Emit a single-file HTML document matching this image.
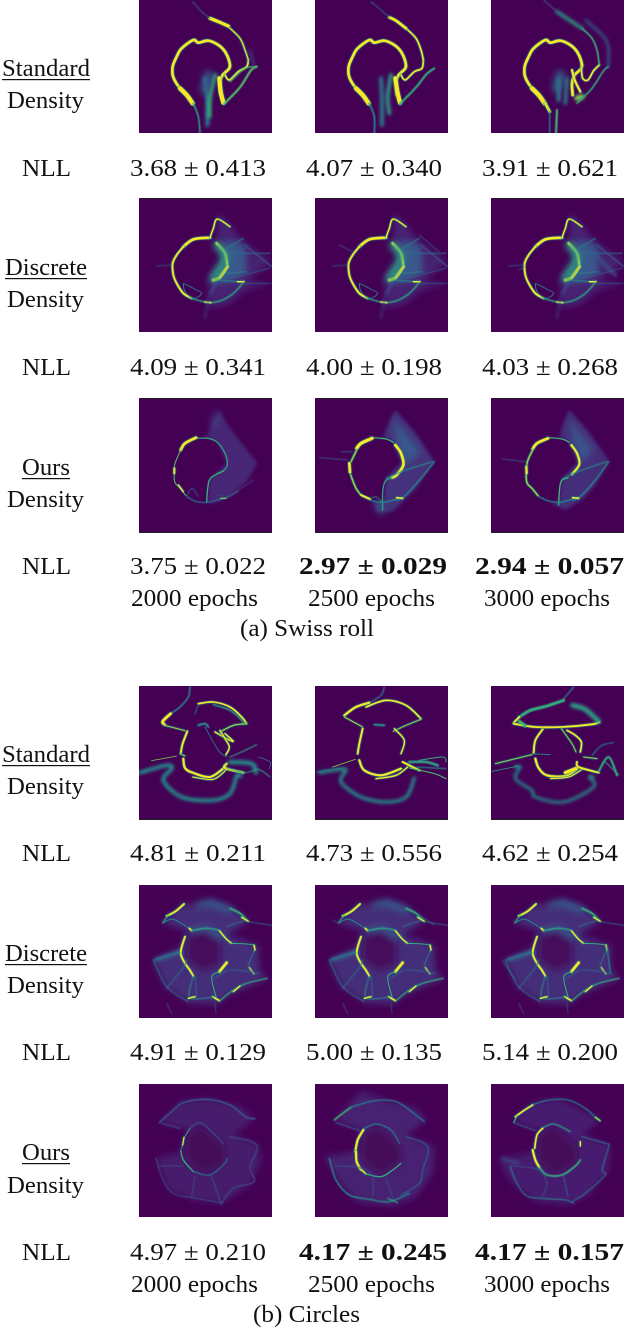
<!DOCTYPE html>
<html lang="en">
<head>
<meta charset="utf-8">
<title>Density comparison: Swiss roll and Circles</title>
<style>
html,body{margin:0;padding:0;background:#fff}
#figure{display:block;width:626px;height:1328px}
text{font-family:"Liberation Serif",serif;fill:#111;font-size:24px}
.b{font-weight:bold}
</style>
</head>
<body>
<svg id="figure" xmlns="http://www.w3.org/2000/svg" width="626" height="1328" viewBox="0 0 626 1328">
<defs>
<filter id="s1" filterUnits="userSpaceOnUse" x="-100" y="-100" width="700" height="700"><feGaussianBlur stdDeviation="1.8"/></filter>
<filter id="s2" filterUnits="userSpaceOnUse" x="-100" y="-100" width="700" height="700"><feGaussianBlur stdDeviation="5"/></filter>
<filter id="s3" filterUnits="userSpaceOnUse" x="-100" y="-100" width="700" height="700"><feGaussianBlur stdDeviation="10"/></filter>
</defs>
<g id="panels"></g>

<g>
<text x="2" y="76" textLength="88" lengthAdjust="spacingAndGlyphs">Standard</text>
<rect x="2" y="79" width="88" height="1.2" fill="#111"/>
<text x="7" y="108" textLength="77" lengthAdjust="spacingAndGlyphs">Density</text>
<text x="22" y="176" textLength="49" lengthAdjust="spacingAndGlyphs">NLL</text>
<text x="130" y="176" textLength="136" lengthAdjust="spacingAndGlyphs">3.68 ± 0.413</text>
<text x="306" y="176" textLength="136" lengthAdjust="spacingAndGlyphs">4.07 ± 0.340</text>
<text x="482" y="176" textLength="136" lengthAdjust="spacingAndGlyphs">3.91 ± 0.621</text>

<text x="5" y="275" textLength="82" lengthAdjust="spacingAndGlyphs">Discrete</text>
<rect x="5" y="278" width="82" height="1.2" fill="#111"/>
<text x="7" y="307" textLength="77" lengthAdjust="spacingAndGlyphs">Density</text>
<text x="22" y="375" textLength="49" lengthAdjust="spacingAndGlyphs">NLL</text>
<text x="130" y="375" textLength="136" lengthAdjust="spacingAndGlyphs">4.09 ± 0.341</text>
<text x="306" y="375" textLength="136" lengthAdjust="spacingAndGlyphs">4.00 ± 0.198</text>
<text x="482" y="375" textLength="136" lengthAdjust="spacingAndGlyphs">4.03 ± 0.268</text>

<text x="22" y="475" textLength="48" lengthAdjust="spacingAndGlyphs">Ours</text>
<rect x="22" y="478" width="48" height="1.2" fill="#111"/>
<text x="7" y="507" textLength="77" lengthAdjust="spacingAndGlyphs">Density</text>
<text x="22" y="574" textLength="49" lengthAdjust="spacingAndGlyphs">NLL</text>
<text x="130" y="574" textLength="136" lengthAdjust="spacingAndGlyphs">3.75 ± 0.022</text>
<text class="b" x="299" y="574" textLength="148" lengthAdjust="spacingAndGlyphs">2.97 ± 0.029</text>
<text class="b" x="475" y="574" textLength="149" lengthAdjust="spacingAndGlyphs">2.94 ± 0.057</text>
<text x="131" y="606" textLength="127" lengthAdjust="spacingAndGlyphs">2000 epochs</text>
<text x="308" y="606" textLength="127" lengthAdjust="spacingAndGlyphs">2500 epochs</text>
<text x="484" y="606" textLength="126" lengthAdjust="spacingAndGlyphs">3000 epochs</text>
<text x="240" y="636" textLength="134" lengthAdjust="spacingAndGlyphs">(a) Swiss roll</text>
</g>

<g>
<text x="2" y="762" textLength="88" lengthAdjust="spacingAndGlyphs">Standard</text>
<rect x="2" y="765" width="88" height="1.2" fill="#111"/>
<text x="7" y="794" textLength="77" lengthAdjust="spacingAndGlyphs">Density</text>
<text x="22" y="861" textLength="49" lengthAdjust="spacingAndGlyphs">NLL</text>
<text x="130" y="861" textLength="136" lengthAdjust="spacingAndGlyphs">4.81 ± 0.211</text>
<text x="306" y="861" textLength="136" lengthAdjust="spacingAndGlyphs">4.73 ± 0.556</text>
<text x="482" y="861" textLength="136" lengthAdjust="spacingAndGlyphs">4.62 ± 0.254</text>

<text x="5" y="961" textLength="82" lengthAdjust="spacingAndGlyphs">Discrete</text>
<rect x="5" y="964" width="82" height="1.2" fill="#111"/>
<text x="7" y="993" textLength="77" lengthAdjust="spacingAndGlyphs">Density</text>
<text x="22" y="1060" textLength="49" lengthAdjust="spacingAndGlyphs">NLL</text>
<text x="130" y="1060" textLength="136" lengthAdjust="spacingAndGlyphs">4.91 ± 0.129</text>
<text x="306" y="1060" textLength="136" lengthAdjust="spacingAndGlyphs">5.00 ± 0.135</text>
<text x="482" y="1060" textLength="136" lengthAdjust="spacingAndGlyphs">5.14 ± 0.200</text>

<text x="22" y="1160" textLength="48" lengthAdjust="spacingAndGlyphs">Ours</text>
<rect x="22" y="1163" width="48" height="1.2" fill="#111"/>
<text x="7" y="1193" textLength="77" lengthAdjust="spacingAndGlyphs">Density</text>
<text x="22" y="1260" textLength="49" lengthAdjust="spacingAndGlyphs">NLL</text>
<text x="130" y="1260" textLength="136" lengthAdjust="spacingAndGlyphs">4.97 ± 0.210</text>
<text class="b" x="299" y="1260" textLength="148" lengthAdjust="spacingAndGlyphs">4.17 ± 0.245</text>
<text class="b" x="475" y="1260" textLength="149" lengthAdjust="spacingAndGlyphs">4.17 ± 0.157</text>
<text x="131" y="1292" textLength="127" lengthAdjust="spacingAndGlyphs">2000 epochs</text>
<text x="308" y="1292" textLength="127" lengthAdjust="spacingAndGlyphs">2500 epochs</text>
<text x="484" y="1292" textLength="126" lengthAdjust="spacingAndGlyphs">3000 epochs</text>
<text x="253" y="1322" textLength="107" lengthAdjust="spacingAndGlyphs">(b) Circles</text>
</g>
</svg>

<script>
// Each ridge: [density 0..1, spread (0 = filled region), softness 0..3, x, y, x, y, ...]
// Coordinates are density-image coordinates.
const swissStdCircle = [
 [1,5,0,180,295,150,265,130,232,128,200,140,170,155,145,190,120,205,128,235,122,265,135,285,155,298,185,298,205,278,225,270,250,272,285],
 [1,8,0,150,265,170,285,188,310]
];
const swissStd2000 = swissStdCircle.concat([
 [.55,3,1,190,310,205,350,210,398],
 [.45,7,2,225,235,232,300,232,375],
 [.62,7,2,255,225,240,290,238,350],
 [.3,16,3,235,225,225,270],
 [1,8,0,280,308,272,275,268,235],
 [.7,4,1,282,312,330,262,362,212,380,200],
 [1,3,0,285,225,298,240,325,215,350,200,355,180],
 [.7,2.5,1,300,245,345,205,380,200],
 [.95,2.5,0,355,180,345,150,330,115,295,80],
 [1,6,0,295,78,265,65,240,55],
 [.3,2,1,240,55,215,35,188,5],
 [.2,4,2,360,150,372,195]
]);
const swissStd2500 = swissStdCircle.concat([
 [.5,3,1,190,310,205,350,205,398],
 [.45,7,2,225,235,228,300,228,375],
 [.55,7,2,255,225,245,290,250,340],
 [1,8,0,282,308,274,275,268,235],
 [.6,4,1,282,312,330,262,362,222,385,205],
 [1,3,0,285,225,298,240,325,215,348,205,352,180],
 [1,3,0,352,180,345,150,330,115,300,85],
 [1,5,0,300,85,270,62,250,52],
 [.3,2,1,250,52,225,30,195,5]
]);
const swissStd3000 = swissStdCircle.concat([
 [.95,5,0,190,310,203,335],
 [.45,2.5,1,203,335,203,398],
 [.65,4,1,225,330,222,398],
 [.45,7,2,230,240,230,300],
 [.35,16,3,235,225,225,265],
 [.45,6,2,255,235,250,310],
 [1,4,0,270,210,278,240,295,275],
 [.8,10,2,285,295,300,290],
 [.6,3,1,285,310,330,265,365,212,380,200],
 [1,3,0,298,205,302,235,318,240,335,212,352,195],
 [.65,3,1,352,195,345,150,330,115,300,85],
 [.55,6,2,300,85,265,62,225,35],
 [.25,2,1,225,35,185,0],
 [.35,4,2,310,60,365,110,380,150,378,200]
]);

const swissDiscBase = [
 [.12,0,3,265,50,340,140,425,200,350,260,420,268,345,285,300,325,240,340,235,250,280,195,262,140],
 [.28,0,3,285,135,345,150,350,232,295,262,250,262,290,200],
 [1,5,0,240,128,190,133,160,155],
 [1,3.5,0,160,155,140,180,128,205,130,240,140,265,160,295,185,310],
 [.55,3,1,185,310,230,322,270,318,310,295,342,260],
 [1,3,0,225,321,242,323],
 [1,2.5,0,240,128,250,100,262,72,300,95],
 [1,5,0,260,145,285,175,292,215],
 [1,6,0,292,215,268,248,250,255],
 [.55,14,3,262,150,285,190,250,250],
 [.45,2,1,290,160,340,130],
 [.45,2,1,290,235,350,230],
 [.5,2,1,262,255,340,262],
 [1,2.5,0,322,260,342,260],
 [.3,1.5,1,340,265,422,265],
 [.28,1.5,1,80,213,125,210],
 [.5,1.5,0,160,265,190,280,215,295,190,310,165,290,160,265],
 [.2,3,2,235,310,225,370],
 [.35,2,1,290,170,345,175,420,175],
 [.3,2,1,345,150,425,215],
 [.25,4,2,240,300,260,260],
 [.3,1.5,1,300,250,420,220]
];
const swissDisc2500 = swissDiscBase.concat([[.3,1.5,1,340,120,400,170],[.24,1.5,1,140,170,100,150]]);
const swissDisc3000 = swissDiscBase.concat([[.25,6,2,340,180,400,240],[.3,1.5,1,110,225,128,215]]);

const swissOurs2000 = [
 [.13,0,2,270,50,300,100,382,205,350,260,300,302,250,325,232,320,240,250,290,205,262,140,228,126,250,80],
 [.24,8,3,262,55,250,90],
 [.55,2.5,0,195,130,235,130,262,142,285,175,292,210,280,228],
 [.62,2.5,0,280,228,255,240,238,255,232,290,230,322],
 [.35,2.5,1,170,305,200,320,232,322,262,315,290,308,325,288],
 [.75,2.5,0,272,310,288,310],
 [1,5,0,152,165,165,145,198,128],
 [.7,2,0,152,165,135,205,133,225,134,260,150,280,168,302],
 [1,3.5,0,133,220,133,235],
 [1,2.5,0,145,270,160,290],
 [.35,1.5,1,170,305,185,280,205,305],
 [.22,1.5,1,260,300,300,300,370,255]
];
const swissOurs2500 = [
 [.16,0,2,268,45,330,115,385,200,330,280,300,310,260,350,215,350,205,320,232,318,240,250,290,200,262,140,232,125,250,80],
 [.28,0,3,262,70,345,170,300,210,270,140],
 [.25,10,3,210,330,230,350],
 [.62,2.5,0,200,128,240,132,262,142],
 [1,5,0,268,150,285,175,292,210,272,240,258,248],
 [.55,2.5,0,258,248,238,258,230,290,230,345],
 [.5,2.5,1,170,305,200,318,232,322,262,315,290,308,335,262,385,200],
 [.5,2,1,240,250,300,225,380,200],
 [1,3,0,272,308,290,310],
 [1,6,0,152,160,165,145,198,130],
 [.85,2.5,0,152,165,135,200],
 [1,5,0,130,205,132,232],
 [.85,2.5,0,134,240,150,280,165,300],
 [1,3.5,0,165,300,192,312],
 [.55,1.5,1,192,312,210,305,228,322],
 [.3,1.5,1,40,188,125,195],
 [.3,1.5,1,105,170,140,170]
];
const swissOurs3000 = [
 [.15,0,2,262,45,320,110,382,200,340,270,300,315,250,345,205,325,232,318,240,250,290,200,262,140,232,125,245,80],
 [.25,0,3,262,70,335,165,300,205,270,140],
 [.62,2.5,0,200,128,240,132,262,142],
 [1,4,0,268,150,285,175,292,208,270,238],
 [.65,2.5,0,258,248,238,258,232,290,230,330],
 [.5,2.5,1,170,305,200,318,232,322,262,315,290,308,335,262,380,200],
 [.5,2,1,240,252,300,225,375,200],
 [1,3,0,272,308,290,310],
 [1,5,0,152,162,165,145,198,130],
 [.85,2.5,0,152,165,135,205,134,260,150,280,168,302],
 [1,4,0,133,215,134,235],
 [.3,1.5,1,60,192,130,200]
];

const circStd2000 = [
 [.45,3,1,180,15,175,45,150,75,122,95],
 [1,5,0,122,95,98,118,104,128],
 [.9,1.5,0,104,130,165,146],
 [.35,2,1,195,95,205,68],
 [1,3,0,205,65,250,60,300,75,335,105,350,125],
 [.55,3,1,250,68,300,85,335,115,340,128],
 [.85,2,0,350,125,310,130,270,150],
 [.5,4,1,205,130,225,125,235,135],
 [1,3.5,0,172,148,158,185,152,215],
 [.45,1.5,0,225,135,265,205,290,225],
 [1,2.5,0,255,150,290,170,310,178,285,155],
 [1,2.5,0,270,145,285,170,298,195,288,218],
 [1,4,0,160,230,165,258,188,272,240,285,285,255],
 [1,2,0,188,285,250,292,290,262],
 [1,4,0,290,245,285,258,340,272],
 [.5,8,2,300,240,365,245,378,272],
 [.55,2,1,290,258,345,272,385,262,420,285],
 [.4,1.5,0,385,225,420,240,418,260],
 [.5,7,2,30,272,110,250,125,260,100,295,155,345,245,355,300,335,320,282,332,282],
 [.55,2,1,300,225,345,205,380,188],
 [.8,1.5,0,65,236,140,222],
 [.85,1.5,0,150,215,165,222]
];
const circStd2500 = [
 [.4,2.5,1,235,15,225,40,190,62],
 [1,4,0,190,62,150,75,115,100],
 [.9,1.5,0,115,105,170,135],
 [1,3,0,180,75,240,55,300,70,345,110],
 [.85,1.6,0,345,112,300,130,262,148],
 [1,3.5,0,170,140,160,185,155,215],
 [1,2.5,0,265,140,295,175,285,215],
 [.5,4,1,205,128,235,130],
 [1,4,0,160,235,175,265,225,280,285,260],
 [1,2.5,0,210,290,270,280,305,255],
 [1,3.5,0,290,240,340,265],
 [.55,5,1,310,240,360,240,395,250],
 [.7,2,0,310,258,385,275,420,290],
 [.6,2,0,340,235,410,225,420,240],
 [.5,2,1,330,255,420,260],
 [.5,6,2,40,272,105,262,120,265,105,300,165,345,240,360,300,345,325,288],
 [.45,2,1,35,270,110,258],
 [.8,1.5,0,80,255,148,232]
];
const circStd3000 = [
 [.35,3,1,275,15,245,50],
 [.6,6,1,245,55,195,72,145,85,112,105],
 [1,3.5,0,112,105,95,122],
 [1,3.5,0,95,125,160,135,240,135,330,127,352,120],
 [.55,9,2,272,70,310,82,350,118],
 [.65,6,1,112,118,130,132],
 [1,3.5,0,182,142,160,175,155,212],
 [1,3,0,255,145,280,160,298,180,295,210],
 [.85,1.5,0,238,140,270,185,282,210],
 [1,4,0,160,230,170,258,195,280,250,282,285,262],
 [1,6,0,250,272,285,258],
 [1,2,0,205,290,260,285,300,262],
 [1,3.5,0,285,240,290,255,350,272],
 [.6,4,1,350,268,380,225,405,280],
 [.55,2,1,370,240,410,278],
 [.45,2,1,330,220,360,190,395,182],
 [.5,5,2,98,255,115,255,100,290,150,325,160,345,245,360,335,315,322,285,335,285],
 [.55,1.5,0,30,268,110,252],
 [.85,1.5,0,40,245,150,218],
 [.5,1.5,0,150,215,205,218],
 [.85,1.5,0,305,225,345,230]
];

const circDiscBase = [
 [.15,0,3,95,130,160,72,215,75,240,55,300,78,358,125,290,165,385,195,388,270,412,295,305,340,260,372,178,368,105,320,70,240,150,205,172,150],
 [.03,0,3,172,170,220,150,272,190,270,250,225,272,170,240],
 [.32,10,3,205,75,240,70,300,90],
 [.3,10,3,190,150,230,148,270,170],
 [.32,8,2,80,240,150,215],
 [1,3.5,0,110,108,135,95,162,72],
 [.55,2.5,1,98,128,115,105],
 [.45,2,0,98,130,130,118,185,150],
 [1,3,0,178,145,185,152],
 [.55,3,1,185,152,230,145,265,150],
 [.6,4,1,300,85,330,100,352,122],
 [1,2.5,0,335,112,355,124],
 [.4,1.5,1,355,125,425,136],
 [1,2.5,0,268,152,290,178,305,190],
 [.45,1.5,1,290,140,345,122],
 [.6,2,0,305,190,370,195,372,215],
 [1,2.5,0,372,195,375,210],
 [.45,1.5,1,372,215,355,260,372,282],
 [1,1.5,0,358,262,372,282],
 [1,3.5,0,165,170,152,218,165,250,178,268,190,288],
 [.45,1.5,1,70,240,115,225,152,218],
 [1,5,0,290,248,268,275],
 [.6,2,0,268,275,245,292,258,350,262,360],
 [1,3,0,248,350,268,362],
 [.45,2,1,190,288,180,352,250,352],
 [1,2.5,0,175,355,195,350],
 [.6,2.5,1,270,362,310,330,350,310,412,295],
 [1,2.5,0,310,335,330,318],
 [.35,2,1,70,240,110,320,175,365],
 [.32,2,1,195,290,200,350],
 [.32,2,1,110,325,160,262,170,240],
 [.35,1.5,1,250,300,300,270,388,280],
 [.25,1.5,1,110,370,125,400],
 [.25,1.5,1,255,370,258,400]
];
const circDisc2500 = circDiscBase.concat([[.4,1.5,1,330,100,385,135],[.3,1.5,1,80,120,98,130]]);
const circDisc3000 = circDiscBase.concat([[.45,2.5,1,375,200,385,280],[.35,1.5,1,60,240,100,300]]);

const circOurs2000 = [
 [.1,0,3,90,128,150,65,230,55,330,80,375,115,310,165,385,195,395,240,360,315,275,370,190,360,115,330,78,235,150,218,175,150],
 [.02,0,3,170,170,210,140,285,195,285,250,225,280,170,240],
 [.28,3,1,88,128,125,95,160,68,230,58,300,75,350,112,375,116],
 [.25,2,1,95,130,150,145],
 [.26,2,1,300,170,380,195,360,260,372,305,310,325,275,370],
 [.55,2,0,180,145,165,170,155,205],
 [1,2,0,162,172,158,195],
 [.6,2.5,0,152,210,160,240,190,275],
 [.36,2.5,1,190,275,240,285,285,250,290,235],
 [.28,2,1,180,145,215,130,280,190],
 [.26,1.5,1,85,258,160,258],
 [.28,1.5,1,78,232,95,290,130,340,200,355,275,368],
 [.32,1.5,1,245,290,275,375],
 [.26,1.5,1,195,290,185,350]
];
const circOurs2500 = [
 [.12,0,3,85,122,165,35,240,60,330,85,362,120,300,165,385,200,380,280,330,350,260,378,150,365,95,300,55,230,150,215,165,150],
 [.02,0,3,170,170,210,135,285,200,285,245,225,285,165,240],
 [.65,3,1,85,120,110,100,135,82],
 [.42,2.5,1,135,82,205,62,270,65,330,105,355,125],
 [.3,2,1,90,128,160,152],
 [.5,2,1,170,148,210,132,255,150,280,190],
 [1,4,0,172,150,155,180,148,215],
 [1,4,0,150,215,152,245,165,270],
 [1,2.5,0,165,268,180,282],
 [.6,2.5,0,180,282,225,290,260,270,285,250],
 [.35,2,1,300,170,365,200,350,270,340,310,285,345],
 [.5,2.5,1,70,235,90,300,130,345,190,358,250,365,310,340],
 [.6,2,1,245,355,275,368],
 [.25,1.5,1,240,295,262,355],
 [.28,1.5,1,85,258,160,262,200,290,200,350]
];
const circOurs3000 = [
 [.11,0,3,90,125,155,65,235,58,340,110,352,125,300,165,385,195,380,270,320,345,260,375,160,365,85,305,50,235,150,218,170,150],
 [.02,0,3,170,170,210,135,285,200,285,245,225,285,165,240],
 [.42,2.5,1,150,75,200,60,260,60,310,85,340,112],
 [1,3,0,100,110,125,92,152,75],
 [.6,2.5,0,95,128,105,108],
 [.85,2.5,0,340,112,354,122],
 [.3,2,1,95,128,160,152],
 [.55,2.5,1,180,145,215,132,265,155],
 [1,3,0,182,145,165,165,158,205],
 [1,4,0,152,210,160,240,172,262],
 [.6,3.5,1,172,262,195,285,240,285,280,258,295,240],
 [1,2.5,0,295,185,295,198],
 [.4,2,1,300,170,370,190,380,200,360,270,370,285,310,340,270,365],
 [.45,2,1,85,260,100,300,130,345,175,355,250,360,275,370],
 [.3,1.5,1,85,258,165,268,195,310,178,355],
 [.4,1.5,1,245,290,258,350],
 [.26,4,2,60,235,110,250]
];

// Panel layout
const panelX = [139, 315, 491];
const panelY = [0, 199, 399, 686, 885, 1084];
const rowOrigin = [0, 12, 12, 12, 15, 12];
const rowNames = ['swiss-standard','swiss-discrete','swiss-ours','circles-standard','circles-discrete','circles-ours'];
const columnNames = ['2000','2500','3000'];
const grid = [
 [swissStd2000, swissStd2500, swissStd3000],
 [swissDiscBase, swissDisc2500, swissDisc3000],
 [swissOurs2000, swissOurs2500, swissOurs3000],
 [circStd2000, circStd2500, circStd3000],
 [circDiscBase, circDisc2500, circDisc3000],
 [circOurs2000, circOurs2500, circOurs3000]
];
const darkEdges = [[], ['top'], ['top','bottom'], ['bottom'], [], []];
const spreadScale = 1.6;

const viridisStops = [[0,68,1,84],[.13,71,37,117],[.25,59,82,139],[.38,44,114,142],[.5,33,145,140],[.63,53,183,121],[.75,94,201,98],[.88,170,220,50],[1,253,231,37]];
function viridis(d){
  const t = Math.max(0, Math.min(1, d));
  for (let i = 1; i < viridisStops.length; i++) {
    const a = viridisStops[i-1], b = viridisStops[i];
    if (t <= b[0]) {
      const f = (t - a[0]) / (b[0] - a[0]);
      return 'rgb(' + [1,2,3].map(k => Math.round(a[k] + (b[k]-a[k]) * f)).join(',') + ')';
    }
  }
  return 'rgb(253,231,37)';
}
// Smooth curve through the ridge points
function curve(c){
  const p = [];
  for (let i = 0; i < c.length; i += 2) p.push([c[i], c[i+1]]);
  let d = 'M' + p[0][0] + ' ' + p[0][1];
  for (let i = 0; i < p.length - 1; i++) {
    const a = p[Math.max(i-1,0)], b = p[i], e = p[i+1], f = p[Math.min(i+2,p.length-1)];
    d += 'C' + (b[0]+(e[0]-a[0])/6).toFixed(1) + ' ' + (b[1]+(e[1]-a[1])/6).toFixed(1) + ' ' +
         (e[0]-(f[0]-b[0])/6).toFixed(1) + ' ' + (e[1]-(f[1]-b[1])/6).toFixed(1) + ' ' + e[0] + ' ' + e[1];
  }
  return d;
}
const NS = 'http://www.w3.org/2000/svg';
const root = document.getElementById('panels');

function addStroke(parent, coords, density, width, soft){
  const el = document.createElementNS(NS, 'path');
  
  
  el.setAttribute('d', curve(coords));
  el.setAttribute('fill', 'none');
  el.setAttribute('stroke', viridis(density));
  el.setAttribute('stroke-width', width);
  el.setAttribute('stroke-linejoin', 'round');
  el.setAttribute('stroke-linecap', 'round');
  if (soft > 0) el.setAttribute('filter', 'url(#s' + soft + ')');
  parent.appendChild(el);
}

grid.forEach(function(row, r){
  row.forEach(function(ridges, c){
    const s = document.createElementNS(NS, 'svg');
    
    
    s.setAttribute('x', panelX[c]);
    s.setAttribute('y', panelY[r]);
    s.setAttribute('width', 133);
    s.setAttribute('height', 133);
    s.setAttribute('viewBox', '27 ' + rowOrigin[r] + ' 399 399');
    const bg = document.createElementNS(NS, 'rect');
    
    
    bg.setAttribute('x', 27);
    bg.setAttribute('y', rowOrigin[r]);
    bg.setAttribute('width', 399);
    bg.setAttribute('height', 399);
    bg.setAttribute('fill', '#440154');
    s.appendChild(bg);
    ridges.forEach(function(t){
      const density = t[0], spread = t[1], soft = t[2], coords = t.slice(3);
      if (spread === 0) {
        const poly = document.createElementNS(NS, 'polygon');
        
        
        poly.setAttribute('points', coords.join(' '));
        poly.setAttribute('fill', viridis(density));
        if (soft > 0) poly.setAttribute('filter', 'url(#s' + soft + ')');
        s.appendChild(poly);
        return;
      }
      const w = spread * spreadScale;
      if (density >= .85 && soft === 0) addStroke(s, coords, .5, w + 3, 1);
      addStroke(s, coords, density, w, soft);
    });
    root.appendChild(s);
    darkEdges[r].forEach(function(edge){
      const line = document.createElementNS(NS, 'rect');
      
      
      line.setAttribute('x', panelX[c]);
      line.setAttribute('y', edge === 'top' ? panelY[r] - 1 : panelY[r] + 133);
      line.setAttribute('width', 133);
      line.setAttribute('height', 1);
      line.setAttribute('fill', '#222');
      root.appendChild(line);
    });
  });
});
</script>
</body>
</html>
